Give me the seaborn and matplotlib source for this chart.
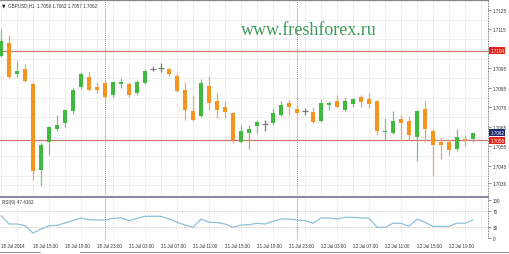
import numpy as np
import pandas as pd
import matplotlib
matplotlib.use('Agg')
import matplotlib.pyplot as plt
import seaborn as sns
from matplotlib.lines import Line2D

# ---------------- data ----------------
opens = [1.71015, 1.71082, 1.70919, 1.70949, 1.70868, 1.70429, 1.70572, 1.70638, 1.70669, 1.70730,
         1.70852, 1.70908, 1.70852, 1.70873, 1.70811, 1.70868, 1.70868, 1.70822, 1.70873, 1.70949,
         1.70954, 1.70949, 1.70913, 1.70837, 1.70730, 1.70704, 1.70862, 1.70781, 1.70750, 1.70720,
         1.70572, 1.70618, 1.70653, 1.70664, 1.70669, 1.70709, 1.70771, 1.70740, 1.70730, 1.70725,
         1.70679, 1.70760, 1.70781, 1.70735, 1.70766, 1.70801, 1.70791, 1.70781, 1.70623, 1.70618,
         1.70689, 1.70679, 1.70597, 1.70740, 1.70628, 1.70572, 1.70572, 1.70536, 1.70587, 1.70590]
highs = [1.71153, 1.71123, 1.70990, 1.70970, 1.70878, 1.70567, 1.70653, 1.70709, 1.70740, 1.70847,
         1.70929, 1.70929, 1.70878, 1.70898, 1.70883, 1.70903, 1.70878, 1.70888, 1.70949, 1.70964,
         1.70980, 1.70954, 1.70924, 1.70878, 1.70811, 1.70898, 1.70913, 1.70822, 1.70781, 1.70725,
         1.70658, 1.70658, 1.70684, 1.70684, 1.70745, 1.70781, 1.70786, 1.70760, 1.70745, 1.70750,
         1.70791, 1.70781, 1.70811, 1.70801, 1.70796, 1.70811, 1.70822, 1.70786, 1.70694, 1.70730,
         1.70709, 1.70704, 1.70735, 1.70781, 1.70638, 1.70597, 1.70577, 1.70638, 1.70607, 1.70620]
lows = [1.71010, 1.70903, 1.70908, 1.70878, 1.70378, 1.70347, 1.70505, 1.70628, 1.70648, 1.70715,
        1.70842, 1.70832, 1.70822, 1.70796, 1.70801, 1.70847, 1.70801, 1.70811, 1.70868, 1.70934,
        1.70929, 1.70913, 1.70827, 1.70684, 1.70679, 1.70699, 1.70735, 1.70694, 1.70694, 1.70567,
        1.70567, 1.70536, 1.70613, 1.70628, 1.70658, 1.70704, 1.70709, 1.70715, 1.70709, 1.70669,
        1.70674, 1.70735, 1.70745, 1.70730, 1.70750, 1.70750, 1.70745, 1.70607, 1.70577, 1.70613,
        1.70577, 1.70582, 1.70475, 1.70572, 1.70398, 1.70485, 1.70505, 1.70526, 1.70551, 1.70570]
closes = [1.71092, 1.70908, 1.70939, 1.70883, 1.70424, 1.70556, 1.70648, 1.70658, 1.70735, 1.70837,
          1.70919, 1.70837, 1.70837, 1.70801, 1.70878, 1.70878, 1.70811, 1.70878, 1.70939, 1.70949,
          1.70954, 1.70919, 1.70832, 1.70735, 1.70684, 1.70873, 1.70771, 1.70735, 1.70725, 1.70582,
          1.70628, 1.70638, 1.70674, 1.70664, 1.70720, 1.70760, 1.70750, 1.70720, 1.70730, 1.70674,
          1.70771, 1.70771, 1.70750, 1.70781, 1.70791, 1.70776, 1.70766, 1.70628, 1.70628, 1.70679,
          1.70669, 1.70607, 1.70730, 1.70638, 1.70556, 1.70556, 1.70531, 1.70597, 1.70582, 1.70620]
rsi = [58.5, 37, 37, 33, 13.7, 24, 32.6, 33.7, 39.6, 46,
       52.6, 48, 47.4, 47.4, 51.8, 53, 45.6, 51.8, 57, 57,
       57, 50, 41.5, 34.5, 28.5, 50, 41.5, 41, 37, 28.5,
       34.5, 35.2, 38.9, 37, 44, 50, 50, 47.4, 45.6, 38.9,
       52.6, 52.6, 50, 54.4, 54.4, 52.6, 52.6, 28.5, 28.5, 38.9,
       38.9, 31, 50, 41.5, 31, 31, 30.6, 39.6, 38.9, 47.4]
time_labels = ["18 Jul 2014", "18 Jul 15:00", "18 Jul 19:00", "18 Jul 23:00",
               "21 Jul 03:00", "21 Jul 07:00", "21 Jul 11:00", "21 Jul 15:00",
               "21 Jul 19:00", "21 Jul 23:00", "22 Jul 03:00", "22 Jul 07:00",
               "22 Jul 11:00", "22 Jul 15:00", "22 Jul 19:00"]
price_ticks = [1.7125, 1.7115, 1.7095, 1.7085, 1.7075, 1.7065, 1.7055, 1.7045, 1.7036]
rsi_ticks = [100, 70, 30, 0]
rsi_levels = [70, 30]
level_lines = [1.7104, 1.7058]
last_price = 1.7062
day_separators = [13, 37]
header = "GBPUSD,H1  1.7059 1.7062 1.7057 1.7062"
rsi_title = "RSI(9) 47.4162"
watermark = "www.freshforex.ru"

# ---------------- style ----------------
sns.set_theme(style='white')
plt.rcParams['font.family'] = ['Liberation Sans', 'DejaVu Sans']

GREEN = '#41b83f'
ORANGE = '#f7941d'
GREEN_WICK = '#8fb88f'
ORANGE_WICK = '#e0aa70'
DOJI = '#7a7a7a'
GRID = '#e4e4e4'
LEVEL = '#c9786a'
TXT = '#333333'
FS = 3.3

W, H = 510, 255
fig = plt.figure(figsize=(W / 100, H / 100), dpi=100)
fig.patch.set_facecolor('white')


def fx(px):
    return px / W


def fy(py):
    return 1 - py / H


ax = fig.add_axes([0, fy(196), fx(488), fy(1) - fy(196)])
axr = fig.add_axes([0, fy(240), fx(488), fy(199) - fy(240)])

df = pd.DataFrame({'open': opens, 'high': highs, 'low': lows, 'close': closes, 'rsi': rsi})
df['idx'] = np.arange(len(df))
up = df['close'] > df['open']
down = df['close'] < df['open']
doji = df['close'] == df['open']

xlim = (-0.125, 60.875)
for a in (ax, axr):
    a.set_xlim(*xlim)
    a.set_facecolor('white')
    for s in a.spines.values():
        s.set_visible(False)

# ---- main price panel ----
ax.set_ylim(1.70307, 1.71301)
wick_cols = np.where(up, GREEN_WICK, np.where(down, ORANGE_WICK, DOJI))
ax.vlines(df['idx'], df['low'], df['high'], colors=wick_cols, lw=0.9, zorder=2)
body_cols = np.where(up, GREEN, ORANGE)
nd = ~doji
ax.bar(df['idx'][nd], (df['close'] - df['open']).abs()[nd],
       bottom=np.minimum(df['open'], df['close'])[nd],
       width=0.62, color=body_cols[nd], linewidth=0, zorder=3)
ax.hlines(df['close'][doji], df['idx'][doji] - 0.35, df['idx'][doji] + 0.35,
          colors=DOJI, lw=0.9, zorder=3)

for lv in level_lines:
    ax.axhline(lv, color=LEVEL, lw=0.9, zorder=1.5)

ax.set_yticks(price_ticks)
ax.set_yticks(np.arange(1.7030, 1.71301, 0.0005), minor=True)
ax.set_xticks(np.arange(0, 61, 2), minor=True)
ax.set_xticks([])
ax.grid(False)
ax.grid(True, which='minor', color=GRID, lw=0.6, ls=(0, (2, 1)), zorder=0)
ax.yaxis.tick_right()
ax.tick_params(axis='y', which='major', right=True, length=2, width=0.5,
               color='#666666', labelsize=FS, labelcolor=TXT, pad=1.5)
ax.tick_params(axis='y', which='minor', right=False, length=0)
ax.tick_params(axis='x', which='both', length=0, labelbottom=False)

for lv in level_lines:
    ax.annotate(f"{lv:.4f}", xy=(1, lv), xycoords=('axes fraction', 'data'),
                xytext=(1.6, 0), textcoords='offset points', ha='left', va='center',
                fontsize=FS, color='white', annotation_clip=False, zorder=10,
                bbox=dict(boxstyle='square,pad=0.2', fc='#e2231a', ec='none'))
ax.annotate(f"{last_price:.4f}", xy=(1, last_price), xycoords=('axes fraction', 'data'),
            xytext=(1.6, 0), textcoords='offset points', ha='left', va='center',
            fontsize=FS, color='white', annotation_clip=False, zorder=10,
            bbox=dict(boxstyle='square,pad=0.2', fc='#1d2a6b', ec='none'))

for d in day_separators:
    ax.axvline(d, color='#8a8a8a', lw=0.7, ls=(0, (1, 1)), zorder=1.6)

# ---- RSI panel ----
axr.set_ylim(-1.8, 104.4)
sns.lineplot(x=df['idx'], y=df['rsi'], ax=axr, color='#86bfd2', lw=0.85, zorder=3)
for lv in rsi_levels:
    axr.axhline(lv, color='#d8c8b8', lw=0.6, ls=(0, (2, 1.5)), zorder=1)
for d in day_separators:
    axr.axvline(d, color='#8a8a8a', lw=0.7, ls=(0, (1, 1)), zorder=1.6)
axr.set_yticks(rsi_ticks)
axr.set_yticklabels([str(t) for t in rsi_ticks])
axr.yaxis.tick_right()
axr.tick_params(axis='y', right=True, length=2, width=0.5, color='#666666',
                labelsize=FS, labelcolor=TXT, pad=1.5)
axr.set_xticks(np.arange(0, 57, 4))
axr.set_xticklabels(time_labels)
axr.set_xticks(np.arange(0, 61, 2), minor=True)
axr.grid(False)
axr.grid(True, which='minor', axis='x', color=GRID, lw=0.6, ls=(0, (2, 1)), zorder=0)
axr.tick_params(axis='x', which='both', length=0, labelsize=FS, labelcolor=TXT, pad=3)
for lab in axr.get_xticklabels():
    lab.set_ha('left')
axr.set_xlabel('')
axr.set_ylabel('')

# ---- frame lines ----
fig.add_artist(Line2D([0, fx(488)], [fy(0.7), fy(0.7)], color='#8a8a8a', lw=0.9))
fig.add_artist(Line2D([0, fx(488)], [fy(197.5), fy(197.5)], color='#8a8aa4', lw=1.5))
fig.add_artist(Line2D([fx(488), fx(488)], [fy(0), fy(240)], color='#555555', lw=0.6,
                      ls=(0, (1, 1))))
fig.add_artist(Line2D([0, fx(40)], [fy(253), fy(253)], color='#777777', lw=0.6))
fig.add_artist(Line2D([fx(80), 1], [fy(253), fy(253)], color='#777777', lw=0.6))

# ---- texts ----
fig.text(fx(2), fy(5.5), '\u25bc', fontsize=FS, color='#222222', va='center',
         family=['DejaVu Sans'])
fig.text(fx(8), fy(5.5), header, fontsize=FS, color=TXT, va='center')
fig.text(fx(2), fy(203), rsi_title, fontsize=FS, color=TXT, va='center')
fig.text(fx(309), fy(35), watermark, fontsize=13, color='#3d9d5c', ha='center',
         va='baseline', family=['Liberation Serif', 'DejaVu Serif'])

fig.savefig('out.png', dpi=100, facecolor='white')
